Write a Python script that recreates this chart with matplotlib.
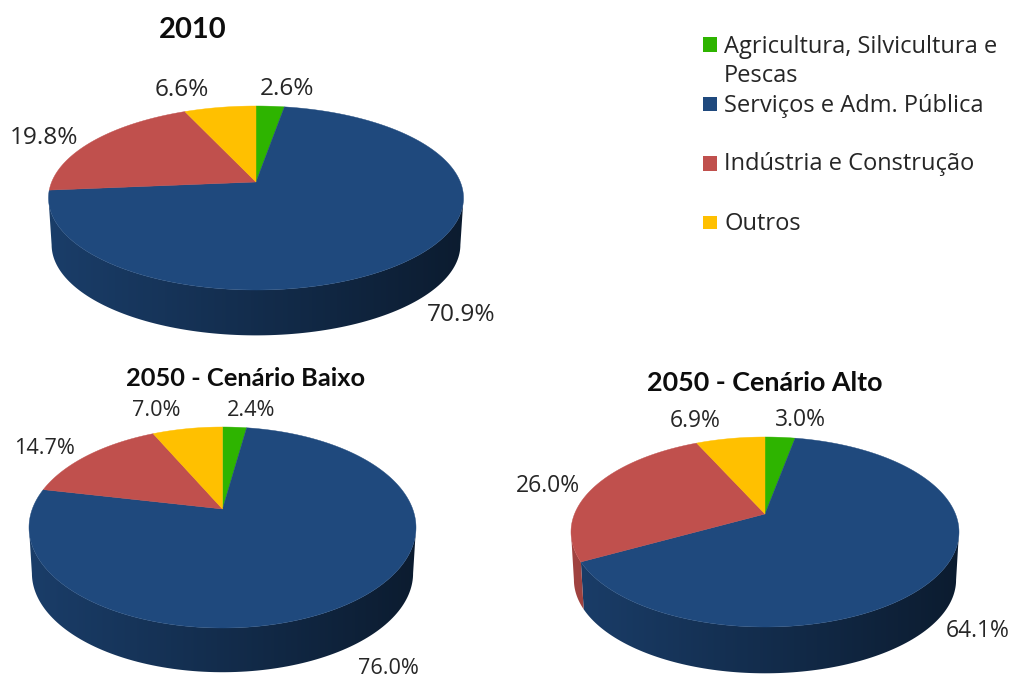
import numpy as np
import matplotlib
matplotlib.use("Agg")
import matplotlib.pyplot as plt
from matplotlib.patches import Polygon, Rectangle

categories = ["Agricultura, Silvicultura e\nPescas", "Serviços e Adm. Pública",
              "Indústria e Construção", "Outros"]
titles = ["2010", "2050 - Cenário Baixo", "2050 - Cenário Alto"]
values_2010 = [2.6, 70.9, 19.8, 6.6]
values_baixo = [2.4, 76.0, 14.7, 7.0]
values_alto = [3.0, 64.1, 26.0, 6.9]

colors = ["#2EB400", "#1F497D", "#C0504D", "#FFC000"]
FONT = "Open Sans"
TITLE_FONT = "Lato"
TXT = "#262626"
W, H = 1011, 677

# apex x, apex y, top y, bottom y, half width, depth
geoms = [(256, 182, 106, 290, 207.5, 47),
         (222.5, 509, 427, 628, 193.5, 46),
         (765, 514, 437, 627, 194, 48)]
title_pos = [(193, 30, 21), (246, 379, 18.3), (765, 383, 19.4)]
label_size = [17.6, 15.6, 16.5]
label_pos = [[(287, 89), (461, 315), (44, 138), (182, 90)],
             [(251, 410), (388, 668), (45, 449), (156, 411)],
             [(800, 420), (978, 631), (548, 486), (695, 421)]]
legend_y = [(37, 52), (97, 111), (156, 171), (216, 229)]
legend_text = [47, 106, 164, 224]

fig = plt.figure(figsize=(W / 100, H / 100), dpi=100)
ax = fig.add_axes([0, 0, 1, 1])
ax.axis("off")


def project(theta, geom, scale=1.0, dy=0.0):
    ax0, ay0, top, bot, hw, _ = geom
    up, down = ay0 - top, bot - ay0
    k = (down - up) / (down + up)
    ry = up * (1 + k)
    rx = hw * np.sqrt(1 - k ** 2)
    u, v = np.sin(theta), np.cos(theta)
    s = 1 / (1 + k * v)
    return ax0 + scale * rx * u * s, ay0 - scale * ry * v * s + dy


def draw_pie(values, geom):
    ax0, ay0, top, bot, hw, depth = geom
    up, down = ay0 - top, bot - ay0
    k = (down - up) / (down + up)
    # front-facing rim: cos(theta) < -k
    th0 = np.arccos(-k)
    th1 = 2 * np.pi - th0
    edges = np.cumsum([0] + list(values)) / sum(values) * 2 * np.pi
    grad = np.linspace(0, 1, 256)[None, :]
    for a, b, col in zip(edges[:-1], edges[1:], colors):
        lo, hi = max(a, th0), min(b, th1)
        if hi > lo:
            ts = np.linspace(lo, hi, 120)
            x1, y1 = project(ts, geom)
            x2, y2 = project(ts, geom, 0.985, depth)
            pts = np.column_stack([np.r_[x1, x2[::-1]], np.r_[y1, y2[::-1]]])
            base = np.array(matplotlib.colors.to_rgb(col))
            f = 0.84 - 0.46 * grad
            img = (base[None, None, :] * f[:, :, None])
            poly = Polygon(pts, closed=True, facecolor="none", edgecolor="none",
                           transform=ax.transData)
            ax.add_patch(poly)
            im = ax.imshow(img, extent=(ax0 - hw, ax0 + hw, bot + depth + 2, top),
                           aspect="auto", interpolation="bilinear", zorder=1)
            im.set_clip_path(poly)
    for a, b, col in zip(edges[:-1], edges[1:], colors):
        ts = np.linspace(a, b, max(3, int((b - a) * 80)))
        x, y = project(ts, geom)
        pts = np.column_stack([np.r_[ax0, x], np.r_[ay0, y]])
        ax.add_patch(Polygon(pts, closed=True, facecolor=col, edgecolor=col, lw=0.3, zorder=2))


for vals, geom, title, tp, lps, ls in zip([values_2010, values_baixo, values_alto], geoms,
                                          titles, title_pos, label_pos, label_size):
    draw_pie(vals, geom)
    ax.text(tp[0], tp[1], title, ha="center", va="center", fontsize=tp[2],
            fontweight="bold", family=TITLE_FONT, color="#0d0d0d", zorder=3)
    for v, (lx, ly) in zip(vals, lps):
        ax.text(lx, ly, f"{v:.1f}%", ha="center", va="center", fontsize=ls,
                family=FONT, color=TXT, zorder=3)

for cat, col, (y0, y1), ty in zip(categories, colors, legend_y, legend_text):
    ax.add_patch(Rectangle((703, y0), 14, y1 - y0, facecolor=col, edgecolor="none"))
    for j, part in enumerate(cat.split("\n")):
        ax.text(724, ty + j * 29.5, part, ha="left", va="center", fontsize=17,
                family=FONT, color=TXT, zorder=3)

ax.set_xlim(0, W)
ax.set_ylim(H, 0)
fig.savefig("out.png", dpi=100, facecolor="white")
